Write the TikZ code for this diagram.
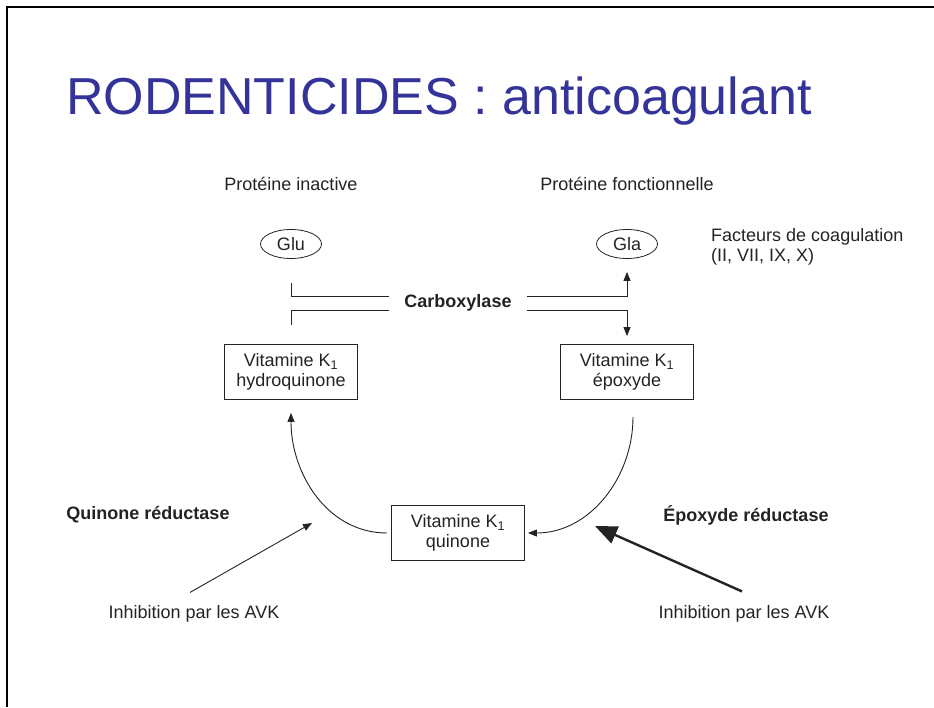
\documentclass[tikz,border=0pt]{standalone}
\usepackage{fontspec}
\setmainfont{Liberation Sans}
\usetikzlibrary{arrows.meta,shapes.geometric}

\definecolor{titre}{RGB}{51,51,153}
\definecolor{texte}{RGB}{35,35,35}

\begin{document}
\begin{tikzpicture}[x=1pt,y=-1pt,
        txt/.style={text=texte,inner sep=1pt,font=\fontsize{18}{20}\selectfont},
        gras/.style={txt,font=\fontsize{18}{20}\selectfont\bfseries},
        boite/.style={txt,draw=texte,line width=0.8pt,align=center,minimum width=133pt,minimum height=55pt},
        bulle/.style={txt,draw=texte,line width=0.8pt,ellipse,minimum width=61pt,minimum height=29pt,inner sep=0pt},
        trait/.style={draw=texte,line width=0.9pt},
        fleche/.style={trait,-{Triangle[length=9pt,width=7pt]}},
        grosse/.style={draw=texte,line width=2.4pt,-{Triangle[length=22pt,width=18pt]}}]
        \useasboundingbox (0,0) rectangle (934,707);

        % Cadre de la diapositive
        \draw[black, line width=2pt] (934,7) -- (7,7) -- (7,707);

        % Titre
        \node[anchor=base west, inner sep=0pt, text=titre, font=\fontsize{52}{58}\selectfont] (titre) at (66,114) {RODENTICIDES : anticoagulant};

        % Proteines
        \node[txt] (inactive) at (291,184) {Protéine inactive};
        \node[txt] (fonct) at (627,184) {Protéine fonctionnelle};
        \node[bulle] (glu) at (291,244) {Glu};
        \node[bulle] (gla) at (627,244) {Gla};
        \node[txt, anchor=west, align=left] (facteurs) at (710,247) {Facteurs de coagulation\\(II, VII, IX, X)};

        % Carboxylase
        \node[gras, inner xsep=15pt] (carbo) at (458,303) {Carboxylase};

        % Vitamine K1
        \node[boite] (hydro) at (291,372) {Vitamine K\textsubscript{1}\\hydroquinone};
        \node[boite] (epox) at (627,372) {Vitamine K\textsubscript{1}\\époxyde};
        \node[boite] (quin) at (458,533) {Vitamine K\textsubscript{1}\\quinone};

        % Enzymes et inhibition
        \node[gras] (qred) at (148,515) {Quinone réductase};
        \node[gras] (ered) at (746,515) {Époxyde réductase};
        \node[txt] (inhG) at (194,614) {Inhibition par les AVK};
        \node[txt] (inhD) at (744,614) {Inhibition par les AVK};
        \coordinate (cibleG) at (312,523);
        \coordinate (cibleD) at (595,526);

        % Liaisons de la carboxylase
        \draw[trait] ([yshift=-24pt]glu.south) |- ([yshift=7pt]carbo.west);
        \draw[trait] ([yshift=-7pt]carbo.west) -| ([yshift=19pt]hydro.north);
        \draw[fleche] ([yshift=7pt]carbo.east) -| ([yshift=-13pt]gla.south);
        \draw[fleche] ([yshift=-7pt]carbo.east) -| ([yshift=8pt]epox.north);

        % Cycle
        \draw[fleche] ([xshift=-4pt]quin.west) to[out=180,in=-90] ([yshift=-13pt]hydro.south);
        \draw[fleche] ([xshift=6pt,yshift=-17pt]epox.south) to[out=-90,in=0] ([xshift=3pt]quin.east);

        % Inhibition
        \draw[fleche] ([xshift=-4pt,yshift=12pt]inhG.north) -- (cibleG);
        \draw[grosse] ([xshift=-2pt,yshift=13pt]inhD.north) -- (cibleD);
\end{tikzpicture}
\end{document}
